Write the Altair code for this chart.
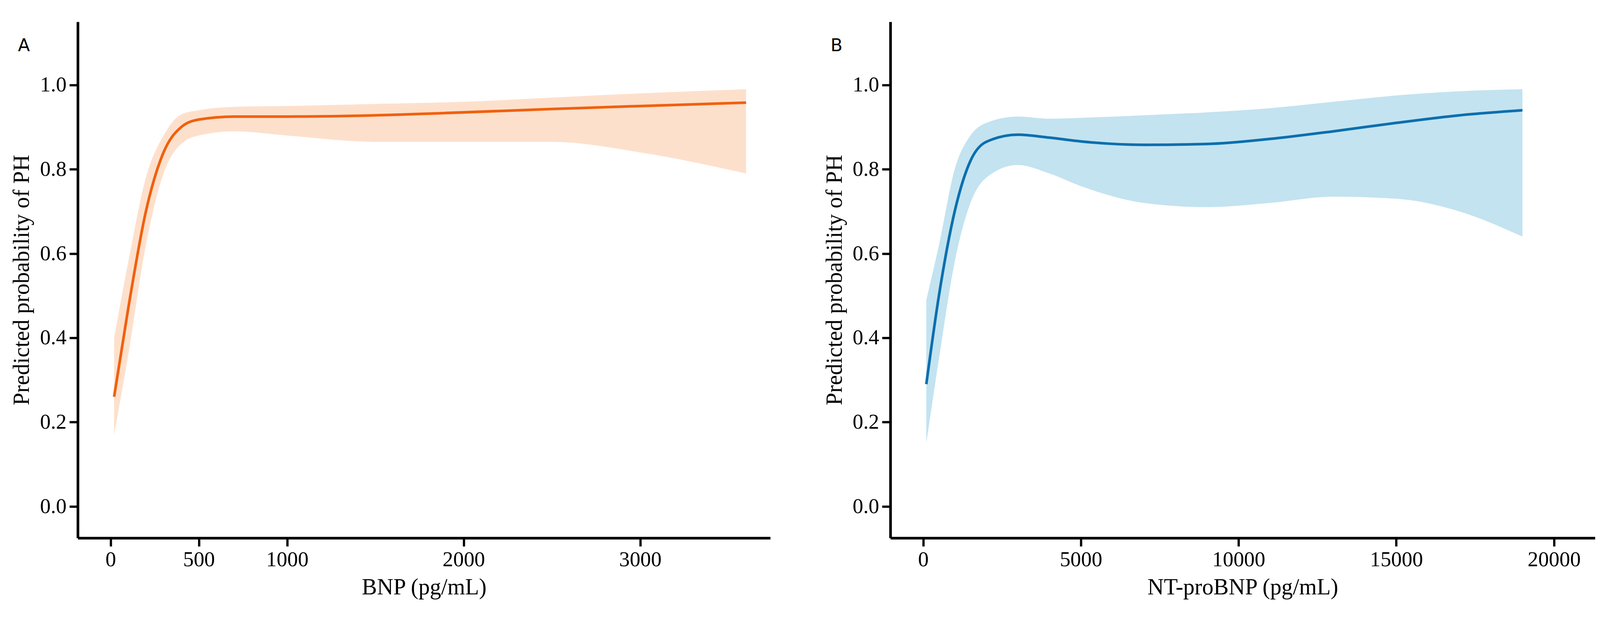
import altair as alt
import pandas as pd

bnp_x = [20, 100, 200, 300, 400, 500, 700, 1000, 1500, 2000, 2500, 3000, 3600]
bnp_y = [0.26, 0.47, 0.70, 0.84, 0.90, 0.918, 0.925, 0.925, 0.928, 0.935, 0.943, 0.95, 0.958]
bnp_lo = [0.17, 0.36, 0.62, 0.79, 0.86, 0.88, 0.89, 0.88, 0.865, 0.865, 0.865, 0.84, 0.79]
bnp_hi = [0.40, 0.58, 0.78, 0.88, 0.93, 0.94, 0.948, 0.95, 0.955, 0.96, 0.97, 0.98, 0.99]

nt_x = [100, 500, 1000, 1500, 2000, 3000, 4000, 5000, 7000, 9000, 11000, 13000, 15000, 17000, 19000]
nt_y = [0.29, 0.50, 0.70, 0.82, 0.865, 0.882, 0.875, 0.866, 0.858, 0.86, 0.872, 0.89, 0.91, 0.928, 0.94]
nt_lo = [0.15, 0.35, 0.58, 0.72, 0.78, 0.81, 0.79, 0.76, 0.72, 0.71, 0.72, 0.735, 0.73, 0.70, 0.64]
nt_hi = [0.49, 0.62, 0.80, 0.88, 0.91, 0.925, 0.92, 0.922, 0.928, 0.935, 0.945, 0.96, 0.975, 0.985, 0.99]

FONT = "Liberation Serif"


def panel(xs, ys, lo, hi, xtitle, xdomain, xticks, line_c, band_c, letter, w):
    df = pd.DataFrame({"x": xs, "y": ys, "lo": lo, "hi": hi})
    xenc = alt.X("x:Q", title=xtitle, scale=alt.Scale(domain=xdomain, nice=False, zero=False),
                 axis=alt.Axis(values=xticks, format="d"))
    yaxis = alt.Axis(values=[0, 0.2, 0.4, 0.6, 0.8, 1.0], format=".1f")
    yscale = alt.Scale(domain=[-0.075, 1.15], nice=False)
    base = alt.Chart(df)
    band = base.mark_area(color=band_c, interpolate="monotone").encode(
        x=xenc, y=alt.Y("lo:Q", scale=yscale, axis=yaxis, title="Predicted probability of PH"),
        y2="hi:Q")
    line = base.mark_line(color=line_c, strokeWidth=7, interpolate="monotone").encode(
        x=xenc, y=alt.Y("y:Q", scale=yscale))
    lab = alt.Chart(pd.DataFrame({"t": [letter]})).mark_text(
        font="DejaVu Sans", fontSize=46, align="center", baseline="middle", color="black"
    ).encode(x=alt.value(-142), y=alt.value(64), text="t:N")
    return (band + line + lab).properties(width=w, height=1362)


left = panel(bnp_x, bnp_y, bnp_lo, bnp_hi, "BNP (pg/mL)", [-186, 3737],
             [0, 500, 1000, 2000, 3000], "#f1600d", "#fde0cc", "A", 1828)
right = panel(nt_x, nt_y, nt_lo, nt_hi, "NT-proBNP (pg/mL)", [-1040, 21300],
              [0, 5000, 10000, 15000, 20000], "#0b6fae", "#c3e3f0", "B", 1860)

chart = alt.hconcat(left, right, spacing=140).configure_view(strokeOpacity=0).configure_axis(
    grid=False, domainColor="black", domainWidth=7, tickColor="black", tickWidth=6, tickSize=22,
    labelFont=FONT, labelFontSize=56, labelColor="black", labelPadding=8,
    titleFont=FONT, titleFontSize=60, titleFontWeight="normal", titleColor="black", titlePadding=16
).properties(padding={"left": 20, "top": 25, "right": 5, "bottom": 5})

chart.save("out.html", embed_options={"renderer": "svg", "actions": False})
